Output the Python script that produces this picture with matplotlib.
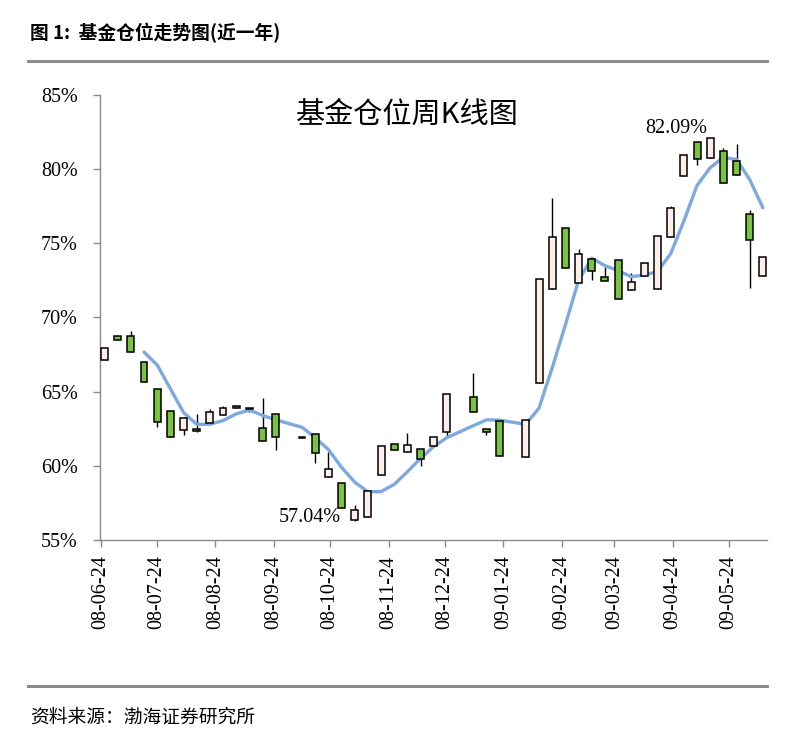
import matplotlib
matplotlib.use("Agg")
import matplotlib.pyplot as plt
import matplotlib.dates as mdates
from matplotlib.lines import Line2D
import numpy as np
from datetime import datetime

plt.rcParams['font.family'] = ['Noto Sans CJK SC', 'DejaVu Sans']

# ---- data (weekly fund position K-line, %) ----
dates = ["2008-06-26", "2008-07-03", "2008-07-10", "2008-07-17", "2008-07-24", "2008-07-31",
         "2008-08-07", "2008-08-14", "2008-08-21", "2008-08-28", "2008-09-04", "2008-09-11",
         "2008-09-18", "2008-09-25", "2008-10-09", "2008-10-16", "2008-10-23", "2008-10-30",
         "2008-11-06", "2008-11-13", "2008-11-20", "2008-11-27", "2008-12-04", "2008-12-11",
         "2008-12-18", "2008-12-25", "2009-01-08", "2009-01-15", "2009-01-22", "2009-02-05",
         "2009-02-12", "2009-02-19", "2009-02-26", "2009-03-05", "2009-03-12", "2009-03-19",
         "2009-03-26", "2009-04-02", "2009-04-09", "2009-04-16", "2009-04-23", "2009-04-30",
         "2009-05-07", "2009-05-14", "2009-05-21", "2009-05-28", "2009-06-04", "2009-06-11"]

opens = [67.13, 68.75, 68.75, 67.00, 65.17, 63.70,
         62.41, 62.45, 62.90, 63.40, 64.00, 63.90,
         62.55, 63.50, 61.95, 62.14, 59.24, 58.84,
         56.34, 56.55, 59.37, 61.47, 60.90, 61.13,
         61.33, 62.28, 64.64, 62.50, 63.00, 60.59,
         65.58, 71.92, 76.03, 72.32, 73.94, 72.70,
         73.87, 71.85, 72.79, 71.92, 75.42, 79.54,
         81.83, 80.75, 81.22, 80.55, 76.98, 72.79]

closes = [67.94, 68.50, 67.67, 65.65, 62.95, 61.94,
          63.22, 62.35, 63.60, 63.90, 63.90, 63.80,
          61.67, 61.94, 61.85, 60.86, 59.78, 57.15,
          57.04, 58.30, 61.33, 61.06, 61.40, 60.45,
          61.94, 64.84, 63.62, 62.30, 60.65, 63.08,
          72.60, 75.42, 73.33, 74.28, 73.13, 72.46,
          71.24, 72.39, 73.67, 75.49, 77.38, 80.95,
          80.68, 82.09, 79.07, 79.60, 75.22, 74.08]

highs = [67.94, 68.75, 69.09, 67.00, 65.17, 63.70,
         63.30, 63.50, 63.85, 64.00, 64.00, 63.90,
         64.60, 63.50, 61.95, 62.14, 60.90, 58.84,
         57.35, 58.30, 61.33, 61.47, 62.20, 61.13,
         61.94, 64.84, 66.25, 62.50, 63.00, 63.08,
         72.60, 78.05, 76.03, 74.60, 73.94, 73.40,
         73.87, 73.00, 73.67, 75.49, 77.55, 80.95,
         81.83, 82.09, 81.42, 81.70, 77.25, 74.08]

lows = [67.13, 68.50, 67.67, 65.65, 62.60, 61.94,
        62.07, 62.30, 62.90, 63.40, 63.90, 63.65,
        61.67, 61.10, 61.85, 60.20, 59.24, 57.15,
        56.30, 56.55, 59.37, 61.06, 60.90, 60.00,
        61.33, 62.00, 63.62, 62.10, 60.65, 60.59,
        65.58, 71.92, 73.33, 72.32, 72.50, 72.46,
        71.24, 71.85, 72.79, 71.92, 75.42, 79.54,
        80.30, 80.75, 79.07, 79.60, 71.99, 72.79]

# moving-average line values (from the 4th week on)
ma_values = [67.67, 66.80, 65.20, 63.60, 62.80, 62.80, 63.05, 63.50, 63.76,
             63.40, 63.10, 62.60, 61.90, 61.10, 59.90, 58.90, 58.25, 58.26,
             58.75, 59.60, 60.50, 61.30, 61.90, 62.70, 63.10, 63.08, 62.80,
             63.90, 66.60, 69.50, 72.50, 74.00, 73.50, 73.16, 72.75, 72.86,
             73.10, 74.30, 76.50, 78.90, 80.10, 80.80, 80.65, 79.30, 77.40]

tick_dates = ["2008-06-24", "2008-07-24", "2008-08-24", "2008-09-24", "2008-10-24",
              "2008-11-24", "2008-12-24", "2009-01-24", "2009-02-24", "2009-03-24",
              "2009-04-24", "2009-05-24"]

y_ticks = [55, 60, 65, 70, 75, 80, 85]

chart_title = "基金仓位周K线图"
header = "图 1:  基金仓位走势图(近一年)"
source = "资料来源：渤海证券研究所"
high_label = "82.09%"
low_label = "57.04%"

# ---- drawing ----
W, H = 799, 744
fig = plt.figure(figsize=(W / 100, H / 100), dpi=100)
fig.patch.set_facecolor("white")

ax = fig.add_axes([100 / W, 1 - 540 / H, (767 - 100) / W, (540 - 95) / H])

x = mdates.date2num([datetime.strptime(d, "%Y-%m-%d") for d in dates])
o = np.array(opens)
c = np.array(closes)
hi = np.array(highs)
lo = np.array(lows)

up = c >= o
body_bottom = np.minimum(o, c)
body_height = np.maximum(np.abs(c - o), 0.12)
face = np.where(up, "#fcefe9", "#7cc242")

ax.vlines(x, lo, hi, color="black", linewidth=1.0, zorder=2)

# moving-average line
ax.plot(x[3:], ma_values, color="#7ea8e0", linewidth=2.4, zorder=3,
        solid_capstyle="round", solid_joinstyle="round")

ax.bar(x, body_height, bottom=body_bottom, width=3.7, color=face,
       edgecolor="black", linewidth=1.1, zorder=4)

x0 = mdates.date2num(datetime(2008, 6, 24))
ax.set_xlim(x0 - 0.4, x0 + 354.2)
ax.set_ylim(55, 85)

tx = mdates.date2num([datetime.strptime(d, "%Y-%m-%d") for d in tick_dates])
ax.set_xticks(tx)
ax.set_xticklabels([datetime.strptime(d, "%Y-%m-%d").strftime("%y-%m-%d") for d in tick_dates],
                   rotation=90, fontfamily="Liberation Serif", fontsize=14.5)
ax.set_yticks(y_ticks)
ax.set_yticklabels([f"{v}%" for v in y_ticks], fontfamily="Liberation Serif", fontsize=14.5)

for s in ["top", "right"]:
    ax.spines[s].set_visible(False)
for s in ["left", "bottom"]:
    ax.spines[s].set_color("#8a8a8a")
    ax.spines[s].set_linewidth(1.0)
ax.tick_params(axis="both", direction="out", length=5, width=1.0, color="#8a8a8a",
               labelcolor="black")
ax.tick_params(axis="y", pad=11)
ax.tick_params(axis="x", pad=6)

ax.text(0.46, 0.955, chart_title, transform=ax.transAxes, ha="center", va="center",
        fontsize=21, color="black")

ax.text(mdates.date2num(datetime(2009, 4, 26)), 82.75, high_label, ha="center", va="center",
        fontfamily="Liberation Serif", fontsize=14.5)
ax.text(mdates.date2num(datetime(2008, 10, 13)), 56.55, low_label, ha="center", va="center",
        fontfamily="Liberation Serif", fontsize=14.5)

# header, rules and source
fig.text(30 / W, 1 - 33 / H, header, ha="left", va="center", fontsize=13.5,
         fontweight="bold", color="black")
fig.add_artist(Line2D([28 / W, 767 / W], [1 - 61 / H, 1 - 61 / H], color="#8c8c8c",
                      linewidth=2.2, transform=fig.transFigure))
fig.add_artist(Line2D([28 / W, 767 / W], [1 - 686 / H, 1 - 686 / H], color="#8c8c8c",
                      linewidth=2.2, transform=fig.transFigure))
fig.text(30 / W, 1 - 717 / H, source, ha="left", va="center", fontsize=13.5, color="black")

fig.savefig("out.png", dpi=100, facecolor="white")
